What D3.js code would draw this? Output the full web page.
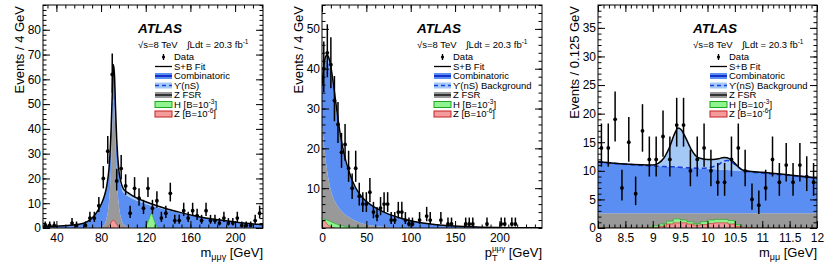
<!DOCTYPE html>
<html>
<head>
<meta charset="utf-8">
<script src="https://cdn.jsdelivr.net/npm/d3@7"></script>
<style>
  body { margin: 0; background: #fff; }
  svg { display: block; font-family: "Liberation Sans", Arial, sans-serif; }
</style>
</head>
<body>
<script>
/////////////////////////////////////////////////////
//////////// values ////////////
/////////////////////////////////////////////////////

// panel 1 : m(mu mu gamma), 4 GeV bins
const p1BinCenters = [30,34,38,42,46,50,54,58,62,66,70,74,78,82,86,90,94,98,102,106,110,114,118,122,126,130,134,138,142,146,150,154,158,162,166,170,174,178,182,186,190,194,198,202,206,210,214,218,222];
const p1Counts = [1,1,1,0,0,0,2,1,0,1,4,4,9,20,31,62,19,24,17,6,16,12,8,16,8,11,4,6,14,3,3,7,4,7,5,3,7,3,3,2,4,2,2,4,1,1,1,3,6];
// fit components sampled along the curve
const p1CurveX = [28,40,50,60,65,70,75,80,83,85,87,88,89,90,91,92,93,94,96,98,100,105,110,120,130,140,150,160,170,180,190,200,210,220,225];
const p1Zfsr = [0,0,0,0,0,0,0.1,0.5,1.5,4,10,16,26,40,52,48,34,22,9,4,1.5,0.4,0.1,0,0,0,0,0,0,0,0,0,0,0,0];
const p1Comb = [0.4,0.7,1,1.5,2,3.3,5.5,9,11.5,12.8,13.5,13.8,14,14,14,13.8,13.6,13.4,13.2,13,12.8,12.2,11.3,9.7,8.4,7.2,6.2,5.2,4.3,3.6,3,2.4,1.9,1.5,1.3];
const p1Ups = [0,0,0,0,0,0,0,0,0,0,0,0,0,0,0,0,0.2,0.4,0.8,1.2,1.5,1.4,1.2,0.9,0.6,0.4,0.2,0.1,0,0,0,0,0,0,0];
const p1HiggsX = [117,120,122,124,125,126,128,130,133];
const p1Higgs = [0,0.5,2.5,5,6,5,2.5,0.5,0];
const p1ZsigX = [85,87,89,90,91,92,93,95,97];
const p1Zsig = [0,0.8,2.2,2.9,3.2,2.9,2.2,0.8,0];

// panel 2 : pT(mu mu gamma), 4 GeV bins
const p2BinCenters = [2,6,10,14,18,22,26,30,34,38,42,46,50,54,58,62,66,70,74,78,82,86,90,94,98,102,106,110,114,118,122,126,130,134,138,142,146,150,154,158,162,166,170,174,178,182,186,190,194,198,202,206,210,214,218];
const p2Counts = [40,44,41,32,26,19,21,15,10,15,8,6,6,9,4,3,5,6,6,2,2,4,4,2,1,1,0,2,0,3,2,0,0,2,0,1,1,0,0,0,1,1,1,0,0,0,1,0,0,0,1,1,0,1,1];
const p2CurveX = [0,2,4,6,8,10,12,15,18,21,25,30,35,40,45,50,60,70,80,90,100,120,140,160,180,200,220,248];
const p2Zfsr = [26,21.5,17.5,14,11.5,9.5,8,6.5,5.4,4.5,3.6,2.8,2.1,1.6,1.2,0.9,0.5,0.25,0.1,0,0,0,0,0,0,0,0,0];
const p2Comb = [9.7,18.4,24.5,28.2,29.5,29.5,28.1,24.8,21.1,17.7,14.3,11.3,9.1,7.5,6.5,5.75,4.6,3.75,3,2.4,1.8,1.05,0.6,0.35,0.2,0.12,0.07,0.04];
const p2Ups = [0.3,0.6,1,1.3,1.5,1.5,1.4,1.2,1,0.8,0.6,0.4,0.3,0.2,0.1,0.05,0,0,0,0,0,0,0,0,0,0,0,0];
const p2HiggsX = [0,3,6,10,15,20,25,30,40,50];
const p2Higgs = [2.2,2.2,2,1.6,1.1,0.7,0.45,0.3,0.1,0];
const p2ZsigX = [0,3,5,7,9,12,15];
const p2Zsig = [1.8,1.7,1.2,0.7,0.4,0.15,0];

// panel 3 : m(mu mu), 0.125 GeV bins
const p3BinCenters = [8.0625,8.1875,8.3125,8.4375,8.5625,8.6875,8.8125,8.9375,9.0625,9.1875,9.3125,9.4375,9.5625,9.6875,9.8125,9.9375,10.0625,10.1875,10.3125,10.4375,10.5625,10.6875,10.8125,10.9375,11.0625,11.1875,11.3125,11.4375,11.5625,11.6875,11.8125,11.9375];
const p3Counts = [14,14,19,7,15,6,17,12,12,16,12,18,18,10,12,14,10,8,8,12,14,10,5,4,7,12,8,11,8,11,9,8];
const p3CurveX = [8,8.5,9,9.1,9.2,9.3,9.4,9.46,9.52,9.6,9.7,9.8,9.9,10,10.1,10.2,10.3,10.36,10.45,10.55,10.65,10.8,11,11.5,12];
const p3Zfsr = [2.6,2.6,2.6,2.6,2.6,2.6,2.6,2.6,2.6,2.6,2.6,2.6,2.6,2.6,2.6,2.6,2.6,2.6,2.6,2.6,2.6,2.6,2.6,2.6,2.6];
const p3Comb = [8.95,8.6,8.3,8.25,8.2,8.15,8.1,8.05,8,7.95,7.9,7.85,7.8,7.75,7.7,7.65,7.6,7.55,7.5,7.45,7.4,7.3,7.15,6.65,6.15];
const p3Ups = [0.05,0,0.1,0.45,1.4,3.25,5.8,6.85,6.6,5.25,3.3,2.05,1.7,1.65,1.7,1.85,2.15,2.15,1.7,0.75,0.1,0,0,0,0];
const p3UpsBkg = [11.55,11.15,10.85,10.8,10.75,10.7,10.7,10.65,10.6,10.55,10.5,10.45,10.45,10.5,10.7,11.1,11.7,11.8,11.5,10.7,10.1,9.8,9.6,9.2,8.75];
const p3Higgs = [0,0,0,0,0,0,0,0.1,0.4,0.7,1.2,1.6,1.4,1.1,0.8,1.1,1.4,1.5,1.5,1.3,0.6,0.1,0,0,0,0,0,0,0,0,0,0];
const p3Zsig = [0,0,0,0,0,0,0,0,0.1,0.3,0.7,0.9,0.9,0.7,0.5,0.6,0.8,0.9,0.9,0.7,0.3,0.1,0,0,0,0,0,0,0,0,0,0];

// tick labels
const p1XTicks = [40, 80, 120, 160, 200];
const p1YTicks = [0, 10, 20, 30, 40, 50, 60, 70, 80];
const p2XTicks = [0, 50, 100, 150, 200];
const p2YTicks = [10, 20, 30, 40, 50];
const p3XTicks = [8, 8.5, 9, 9.5, 10, 10.5, 11, 11.5, 12];
const p3YTicks = [0, 5, 10, 15, 20, 25, 30, 35];

/////////////////////////////////////////////////////
/////////////////// drawing setup ///////////////////
/////////////////////////////////////////////////////
const col = {
    comb: '#5b8ef3',
    ups: '#a5c9f7',
    zfsr: '#999999',
    hFill: '#8ff48f',
    hLine: '#1fa51f',
    zFill: '#f59b9b',
    zLine: '#c42222',
    dash: '#1b3fdc'
};

const svg = d3.select('body')
    .append('svg')
    .attr('width', 830)
    .attr('height', 265);

svg.append('rect').attr('width', 830).attr('height', 265).attr('fill', '#fff');

const frameTop = 5, frameBottom = 228;

// ROOT-like Poisson error bars
const errLo = n => n + 0.5 - Math.sqrt(n + 0.25);
const errHi = n => n + 0.5 + Math.sqrt(n + 0.25);

function drawPanel(o) {
    const x = d3.scaleLinear().domain(o.xDom).range([o.left, o.right]);
    const y = d3.scaleLinear().domain(o.yDom).range([frameBottom, frameTop]);

    svg.append('clipPath').attr('id', 'clip' + o.id)
        .append('rect')
        .attr('x', o.left).attr('y', frameTop)
        .attr('width', o.right - o.left).attr('height', frameBottom - frameTop);

    const plot = svg.append('g').attr('clip-path', `url(#clip${o.id})`);

    // stacked background: Z FSR, combinatoric, Upsilon(nS)
    const rows = o.curveX.map((xv, i) => ({ x: xv, zfsr: o.zfsr[i], comb: o.comb[i], ups: o.ups[i] }));
    const layers = d3.stack().keys(['zfsr', 'comb', 'ups'])(rows);
    const curve = d3.curveMonotoneX;
    const area = d3.area()
        .x(d => x(d.data.x))
        .y0(d => y(d[0]))
        .y1(d => y(d[1]))
        .curve(curve);
    const fills = { zfsr: col.zfsr, comb: col.comb, ups: col.ups };
    layers.forEach(l => {
        plot.append('path').datum(l)
            .attr('d', area)
            .attr('fill', fills[l.key]);
    });

    // signal shapes (not stacked)
    const sigs = [
        { vals: o.higgs, xs: o.higgsX, fill: col.hFill, line: col.hLine },
        { vals: o.zsig, xs: o.zsigX, fill: col.zFill, line: col.zLine }
    ];
    sigs.forEach(s => {
        let pts, c;
        if (o.histEdges) {
            pts = o.histEdges.map((e, i) => [e, s.vals[Math.min(i, s.vals.length - 1)]]);
            c = d3.curveStepAfter;
        } else {
            pts = s.xs.map((xv, i) => [xv, s.vals[i]]);
            c = d3.curveMonotoneX;
        }
        plot.append('path').datum(pts)
            .attr('d', d3.area().x(d => x(d[0])).y0(y(0)).y1(d => y(d[1])).curve(c))
            .attr('fill', s.fill);
        plot.append('path').datum(pts)
            .attr('d', d3.line().x(d => x(d[0])).y(d => y(d[1])).curve(c))
            .attr('fill', 'none')
            .attr('stroke', s.line)
            .attr('stroke-width', 0.6);
    });

    // dashed Upsilon background line
    if (o.upsBkg) {
        plot.append('path')
            .datum(o.curveX.map((xv, i) => [xv, o.upsBkg[i]]))
            .attr('d', d3.line().x(d => x(d[0])).y(d => y(d[1])).curve(d3.curveMonotoneX))
            .attr('fill', 'none')
            .attr('stroke', col.dash)
            .attr('stroke-width', 1.6)
            .attr('stroke-dasharray', '5,3');
    }

    // S+B fit = top of the stack
    const fitLine = d3.line()
        .x(d => x(d.data.x))
        .y(d => y(d[1]))
        .curve(curve);
    plot.append('path').datum(layers[2])
        .attr('d', fitLine)
        .attr('fill', 'none')
        .attr('stroke', '#000')
        .attr('stroke-width', 1.5);

    // data points
    const pts = o.centers.map((c, i) => ({ c, n: o.counts[i] })).filter(d => d.n > 0);
    const dg = plot.append('g');
    dg.selectAll('line').data(pts).join('line')
        .attr('x1', d => x(d.c)).attr('x2', d => x(d.c))
        .attr('y1', d => y(errLo(d.n))).attr('y2', d => y(errHi(d.n)))
        .attr('stroke', '#000').attr('stroke-width', 1.5);
    dg.selectAll('circle').data(pts).join('circle')
        .attr('cx', d => x(d.c)).attr('cy', d => y(d.n))
        .attr('r', 1.9).attr('fill', '#000');

    // axes, ticks inside on all four sides
    const ax = svg.append('g');
    const addAxis = (gen, tr, size, vals, fmt, pad) => {
        const a = gen.tickValues(vals).tickSize(size).tickPadding(pad || 3).tickFormat(fmt);
        const g = ax.append('g').attr('transform', tr).call(a);
        g.select('.domain').remove();
        g.selectAll('line').attr('stroke', '#000').attr('stroke-width', 1);
        g.selectAll('text').attr('fill', '#000').attr('font-family', '"Liberation Sans", Arial, sans-serif').attr('font-size', 12);
        return g;
    };
    const none = () => '';
    const xMinor = d3.range(o.xMinor[0], o.xDom[1] + 1e-9, o.xMinor[1]);
    const yMinor = d3.range(o.yMinor[0], o.yDom[1] + 1e-9, o.yMinor[1]);
    addAxis(d3.axisBottom(x), `translate(0,${frameBottom})`, -7, o.xTicks, d3.format(''), 5);
    addAxis(d3.axisBottom(x), `translate(0,${frameBottom})`, -3.5, xMinor, none);
    addAxis(d3.axisTop(x), `translate(0,${frameTop})`, -7, o.xTicks, none);
    addAxis(d3.axisTop(x), `translate(0,${frameTop})`, -3.5, xMinor, none);
    addAxis(d3.axisLeft(y), `translate(${o.left},0)`, -7, o.yTicks, d3.format(''), 2);
    addAxis(d3.axisLeft(y), `translate(${o.left},0)`, -3.5, yMinor, none);
    addAxis(d3.axisRight(y), `translate(${o.right},0)`, -7, o.yTicks, none);
    addAxis(d3.axisRight(y), `translate(${o.right},0)`, -3.5, yMinor, none);

    svg.append('rect')
        .attr('x', o.left).attr('y', frameTop)
        .attr('width', o.right - o.left).attr('height', frameBottom - frameTop)
        .attr('fill', 'none').attr('stroke', '#000').attr('stroke-width', 1);

    // y title
    svg.append('text')
        .attr('transform', `translate(${o.left - 19},${frameTop + 1}) rotate(-90)`)
        .attr('text-anchor', 'end')
        .attr('font-size', 13)
        .text(o.yTitle);

    // x title
    const xt = svg.append('text')
        .attr('x', o.right).attr('y', 257)
        .attr('text-anchor', 'end')
        .attr('font-size', 13);
    o.xTitle(xt);

    // ATLAS label and legend
    const lx = o.left + 95;
    svg.append('text').attr('x', lx).attr('y', 33)
        .attr('font-size', 13.5).attr('font-weight', 'bold').attr('font-style', 'italic')
        .text('ATLAS');
    svg.append('text').attr('x', lx).attr('y', 48).attr('font-size', 9.5).text('√s=8 TeV');
    const lum = svg.append('text').attr('x', lx + 49).attr('y', 48).attr('font-size', 9.5);
    lum.append('tspan').text('∫Ldt = 20.3 fb');
    lum.append('tspan').attr('font-size', 6.5).attr('dy', -4).text('-1');

    const bx = o.left + 112, bw = 17, tx = o.left + 131;
    const rowY = [57, 66.5, 76, 85.5, 95, 104.5, 114];
    const entries = [
        { t: 'Data', kind: 'data' },
        { t: 'S+B Fit', kind: 'line' },
        { t: 'Combinatoric', kind: 'box', fill: col.comb, line: '#1530c8', w: 2 },
        { t: o.upsLabel, kind: 'box', fill: col.ups, line: col.dash, w: 1.5, dash: '4,3' },
        { t: 'Z FSR', kind: 'box', fill: col.zfsr, line: '#333', w: 2 },
        { t: 'H [B=10', sup: '-3', kind: 'sig', fill: col.hFill, line: col.hLine },
        { t: 'Z [B=10', sup: '-6', kind: 'sig', fill: col.zFill, line: col.zLine }
    ];
    const lg = svg.append('g');
    entries.forEach((e, i) => {
        const cy = rowY[i];
        if (e.kind === 'data') {
            lg.append('line').attr('x1', bx + bw / 2).attr('x2', bx + bw / 2)
                .attr('y1', cy - 3).attr('y2', cy + 3).attr('stroke', '#000').attr('stroke-width', 1.3);
            lg.append('circle').attr('cx', bx + bw / 2).attr('cy', cy).attr('r', 1.6);
        } else if (e.kind === 'line') {
            lg.append('line').attr('x1', bx).attr('x2', bx + bw).attr('y1', cy).attr('y2', cy)
                .attr('stroke', '#000').attr('stroke-width', 1.3);
        } else {
            lg.append('rect').attr('x', bx).attr('y', cy - 3).attr('width', bw).attr('height', 6)
                .attr('fill', e.fill)
                .attr('stroke', e.kind === 'sig' ? e.line : 'none').attr('stroke-width', 1);
            if (e.kind === 'box') {
                lg.append('line').attr('x1', bx).attr('x2', bx + bw).attr('y1', cy).attr('y2', cy)
                    .attr('stroke', e.line).attr('stroke-width', e.w)
                    .attr('stroke-dasharray', e.dash || null);
            }
        }
        const t = lg.append('text').attr('x', tx).attr('y', cy + 3.3).attr('font-size', 9.5);
        t.append('tspan').text(e.t);
        if (e.sup) {
            t.append('tspan').attr('font-size', 6.5).attr('dy', -4).text(e.sup);
            t.append('tspan').attr('dy', 4).text(']');
        }
    });
}

const sub = (t, main, s) => {
    t.append('tspan').text(main);
    t.append('tspan').attr('font-size', 9).attr('dy', 3).text(s);
    t.append('tspan').attr('dy', -3).text(' [GeV]');
};

drawPanel({
    id: 1, left: 43, right: 263, xDom: [28, 225], yDom: [0, 90],
    xTicks: p1XTicks, yTicks: p1YTicks, xMinor: [32, 8], yMinor: [0, 2],
    centers: p1BinCenters, counts: p1Counts,
    curveX: p1CurveX, zfsr: p1Zfsr, comb: p1Comb, ups: p1Ups,
    higgsX: p1HiggsX, higgs: p1Higgs, zsigX: p1ZsigX, zsig: p1Zsig,
    yTitle: 'Events / 4 GeV', upsLabel: 'ϒ(nS)',
    xTitle: t => sub(t, 'm', 'μμγ')
});

drawPanel({
    id: 2, left: 322, right: 542, xDom: [0, 248], yDom: [0, 56],
    xTicks: p2XTicks, yTicks: p2YTicks, xMinor: [0, 10], yMinor: [0, 2],
    centers: p2BinCenters, counts: p2Counts,
    curveX: p2CurveX, zfsr: p2Zfsr, comb: p2Comb, ups: p2Ups,
    higgsX: p2HiggsX, higgs: p2Higgs, zsigX: p2ZsigX, zsig: p2Zsig,
    yTitle: 'Events / 4 GeV', upsLabel: 'ϒ(nS) Background',
    xTitle: t => {
        t.append('tspan').text('p');
        t.append('tspan').attr('font-size', 9).attr('dy', 4).text('T');
        t.append('tspan').attr('font-size', 8).attr('dx', -5.5).attr('dy', -10).text('μμγ');
        t.append('tspan').attr('dy', 6).text(' [GeV]');
    }
});

drawPanel({
    id: 3, left: 598, right: 817, xDom: [8, 12], yDom: [0, 39],
    xTicks: p3XTicks, yTicks: p3YTicks, xMinor: [8, 0.1], yMinor: [0, 1],
    centers: p3BinCenters, counts: p3Counts,
    curveX: p3CurveX, zfsr: p3Zfsr, comb: p3Comb, ups: p3Ups, upsBkg: p3UpsBkg,
    histEdges: p3BinCenters.map(c => c - 0.0625).concat([12]),
    higgs: p3Higgs, zsig: p3Zsig,
    yTitle: 'Events / 0.125 GeV', upsLabel: 'ϒ(nS) Background',
    xTitle: t => sub(t, 'm', 'μμ')
});
</script>
</body>
</html>
